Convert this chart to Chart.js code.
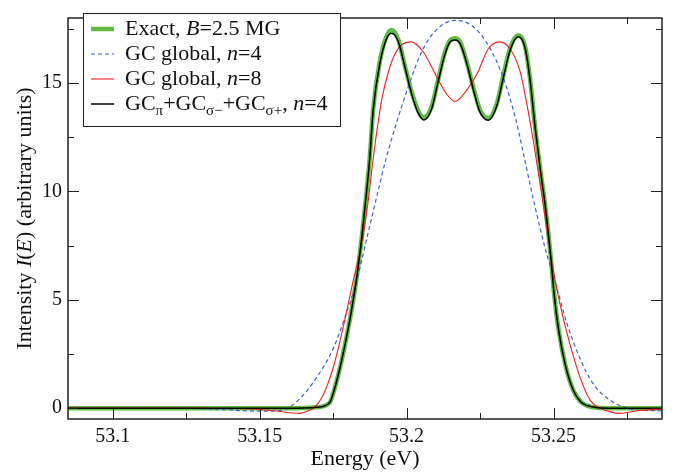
<!DOCTYPE html>
<html>
<head>
<meta charset="utf-8">
<title>Intensity I(E)</title>
<script src="https://cdn.jsdelivr.net/npm/chart.js@4.4.1/dist/chart.umd.min.js"></script>
<style>
  html, body { margin: 0; padding: 0; background: #fff; }
  #wrap { width: 674px; height: 472px; }
</style>
</head>
<body>
<div id="wrap"><canvas id="spectrum" width="674" height="472"></canvas></div>
<script>
// Axis ranges and ticks
const xMin = 53.0848, xMax = 53.2869;
const xTicks = [53.1, 53.15, 53.2, 53.25];
const xTickLabels = ['53.1', '53.15', '53.2', '53.25'];
const xMinorTicks = [53.125, 53.175, 53.225, 53.275];
const yMin = -0.5, yMax = 18;
const yTicks = [0, 5, 10, 15];
const yMinorTicks = [2.5, 7.5, 12.5, 17.5];

// Exact spectrum, B = 2.5 MG
const exactEnergy = [53.0848, 53.14, 53.16, 53.165, 53.1693, 53.1738, 53.1755, 53.1773, 53.179, 53.1807,
  53.183, 53.1847, 53.1864, 53.1875, 53.1886, 53.1909, 53.1932, 53.1949, 53.1972, 53.1994,
  53.2017, 53.204, 53.2059, 53.2085, 53.2108, 53.213, 53.2147, 53.2165, 53.2182, 53.2204,
  53.2227, 53.225, 53.2278, 53.2307, 53.233, 53.2352, 53.238, 53.2403, 53.242, 53.2437,
  53.2455, 53.2472, 53.249, 53.2502, 53.2517, 53.254, 53.2568, 53.2592, 53.2614, 53.265,
  53.27, 53.2869];
const exactIntensity = [0, 0, 0, 0.01, 0.04, 0.25, 0.9, 1.84, 2.9, 4.08,
  6.0, 7.8, 10.0, 11.6, 13.75, 16.0, 17.17, 17.45, 17.0, 15.8,
  14.6, 13.7, 13.42, 13.9, 15.2, 16.4, 16.95, 17.07, 16.9, 16.0,
  14.8, 13.75, 13.38, 14.05, 15.4, 16.6, 17.2, 16.7, 15.2, 13.0,
  11.0, 9.3, 7.05, 5.27, 3.63, 2.0, 0.8, 0.3, 0.12, 0.02,
  0, 0];

// GC global, n = 4
const gcN4Energy = [53.0848, 53.12, 53.135, 53.145, 53.152, 53.158, 53.1636, 53.1693, 53.175, 53.1795,
  53.183, 53.1864, 53.1898, 53.193, 53.2, 53.2057, 53.2113, 53.2165, 53.2227, 53.2284,
  53.233, 53.2372, 53.2403, 53.2437, 53.2472, 53.2511, 53.2545, 53.259, 53.2636, 53.2693,
  53.275, 53.2795, 53.2869];
const gcN4Intensity = [0, 0, -0.05, -0.12, -0.14, -0.08, 0.43, 1.4, 2.74, 4.38,
  5.86, 7.8, 9.73, 11.5, 14.6, 16.6, 17.6, 17.89, 17.6, 16.6,
  15.2, 13.3, 11.4, 9.3, 7.35, 5.57, 3.93, 2.29, 1.1, 0.36,
  0.0, -0.1, -0.12];

// GC global, n = 8
const gcN8Energy = [53.0848, 53.13, 53.145, 53.155, 53.1636, 53.1665, 53.1687, 53.171, 53.173, 53.175,
  53.177, 53.179, 53.1818, 53.1841, 53.1864, 53.189, 53.1915, 53.194, 53.1965, 53.1987,
  53.2015, 53.2057, 53.2102, 53.2136, 53.2165, 53.2199, 53.2239, 53.2278, 53.2316, 53.2352,
  53.2386, 53.2409, 53.2432, 53.2466, 53.2494, 53.2522, 53.2557, 53.2591, 53.2625, 53.2659,
  53.2695, 53.2727, 53.2784, 53.2869];
const gcN8Intensity = [0, 0, -0.03, -0.12, -0.24, -0.12, 0.05, 0.45, 1.05, 1.84,
  2.9, 4.08, 5.86, 7.2, 9.0, 11.9, 14.2, 15.6, 16.45, 16.8,
  16.9, 16.43, 15.3, 14.5, 14.15, 14.57, 15.4, 16.58, 16.9, 16.58,
  15.54, 14.05, 12.26, 9.3, 6.75, 4.8, 2.9, 1.4, 0.36, 0.0,
  -0.17, -0.24, -0.12, -0.05];

// GC_pi + GC_sigma- + GC_sigma+, n = 4
const gcSumEnergy = exactEnergy.slice();
const gcSumIntensity = [0, 0, 0, 0.01, 0.04, 0.25, 0.9, 1.84, 2.9, 4.08,
  6.0, 7.8, 10.0, 11.6, 13.7, 15.9, 17.05, 17.3, 16.9, 15.75,
  14.5, 13.6, 13.3, 13.8, 15.1, 16.3, 16.88, 16.98, 16.82, 15.95,
  14.7, 13.65, 13.28, 13.95, 15.3, 16.5, 17.13, 16.62, 15.15, 13.0,
  11.0, 9.3, 7.05, 5.27, 3.63, 2.0, 0.8, 0.3, 0.12, 0.02,
  0, 0];

const seriesColors = ['#62bb46', '#3f62c8', '#ee2020', '#000000'];

// Legend rows: text runs (italic / subscript pieces)
const legendRows = [
  [{ t: 'Exact, ' }, { t: 'B', it: true }, { t: '=2.5 MG' }],
  [{ t: 'GC global, ' }, { t: 'n', it: true }, { t: '=4' }],
  [{ t: 'GC global, ' }, { t: 'n', it: true }, { t: '=8' }],
  [{ t: 'GC' }, { t: 'π', sub: true }, { t: '+GC' }, { t: 'σ−', sub: true }, { t: '+GC' }, { t: 'σ+', sub: true },
   { t: ', ' }, { t: 'n', it: true }, { t: '=4' }]
];
const xTitle = [{ t: 'Energy (eV)' }];
const yTitle = [{ t: 'Intensity ' }, { t: 'I', it: true }, { t: '(' }, { t: 'E', it: true }, { t: ') (arbitrary units)' }];

const FONT = '"Liberation Serif", serif';
Chart.defaults.font.family = FONT;
Chart.defaults.color = '#111';

function toPoints(xs, ys) {
  return xs.map((x, i) => ({ x: x, y: ys[i] }));
}

function runFont(r, size) {
  const s = r.sub ? Math.round(size * 0.68) : size;
  return (r.it ? 'italic ' : '') + s + 'px ' + FONT;
}

function runsWidth(ctx, runs, size) {
  let w = 0;
  runs.forEach(r => { ctx.font = runFont(r, size); w += ctx.measureText(r.t).width; });
  return w;
}

function drawRuns(ctx, runs, x, y, size) {
  ctx.textBaseline = 'middle';
  ctx.textAlign = 'left';
  runs.forEach(r => {
    ctx.font = runFont(r, size);
    ctx.fillText(r.t, x, y + (r.sub ? size * 0.3 : 0));
    x += ctx.measureText(r.t).width;
  });
}

// frame with inward ticks on all four sides, axis titles and the legend box
const decorations = {
  id: 'decorations',
  afterDatasetsDraw(chart) {
    const { ctx, chartArea: a, scales: { x, y } } = chart;
    ctx.save();
    ctx.strokeStyle = '#222';
    ctx.lineWidth = 1;
    const tickX = (v, len) => {
      const px = Math.round(x.getPixelForValue(v)) + 0.5;
      ctx.beginPath();
      ctx.moveTo(px, a.bottom); ctx.lineTo(px, a.bottom - len);
      ctx.moveTo(px, a.top); ctx.lineTo(px, a.top + len);
      ctx.stroke();
    };
    const tickY = (v, len) => {
      const py = Math.round(y.getPixelForValue(v)) + 0.5;
      ctx.beginPath();
      ctx.moveTo(a.left, py); ctx.lineTo(a.left + len, py);
      ctx.moveTo(a.right, py); ctx.lineTo(a.right - len, py);
      ctx.stroke();
    };
    xTicks.forEach(v => tickX(v, 11));
    xMinorTicks.forEach(v => tickX(v, 6));
    yTicks.forEach(v => tickY(v, 11));
    yMinorTicks.forEach(v => tickY(v, 6));
    ctx.lineWidth = 1.5;
    ctx.strokeRect(a.left, a.top, a.right - a.left, a.bottom - a.top);

    ctx.fillStyle = '#111';
    // x title
    const xs = 22;
    const xw = runsWidth(ctx, xTitle, xs);
    drawRuns(ctx, xTitle, (a.left + a.right) / 2 - xw / 2, 459, xs);
    // y title, rotated
    const ys = 22;
    const yw = runsWidth(ctx, yTitle, ys);
    ctx.save();
    ctx.translate(25, (a.top + a.bottom) / 2);
    ctx.rotate(-Math.PI / 2);
    drawRuns(ctx, yTitle, -yw / 2, 0, ys);
    ctx.restore();

    // legend box
    const bx = 83, by = 13, bw = 257, bh = 113;
    ctx.fillStyle = '#fff';
    ctx.fillRect(bx, by, bw, bh);
    ctx.lineWidth = 1;
    ctx.strokeStyle = '#222';
    ctx.strokeRect(bx + 0.5, by + 0.5, bw, bh);
    const rowY = [29, 54, 79, 104];
    const sets = chart.data.datasets;
    legendRows.forEach((runs, i) => {
      const ds = sets[i];
      ctx.save();
      ctx.strokeStyle = ds.borderColor;
      ctx.lineWidth = ds.borderWidth;
      ctx.setLineDash(ds.borderDash || []);
      ctx.beginPath();
      ctx.moveTo(91, rowY[i]); ctx.lineTo(114, rowY[i]);
      ctx.stroke();
      ctx.restore();
      ctx.fillStyle = '#111';
      drawRuns(ctx, runs, 125, rowY[i], 22);
    });
    ctx.restore();
  }
};

new Chart(document.getElementById('spectrum'), {
  type: 'line',
  data: {
    datasets: [
      { label: 'Exact, B=2.5 MG', data: toPoints(exactEnergy, exactIntensity),
        borderColor: seriesColors[0], borderWidth: 4.5, order: 3 },
      { label: 'GC global, n=4', data: toPoints(gcN4Energy, gcN4Intensity),
        borderColor: seriesColors[1], borderWidth: 1.2, borderDash: [4, 3], order: 2 },
      { label: 'GC global, n=8', data: toPoints(gcN8Energy, gcN8Intensity),
        borderColor: seriesColors[2], borderWidth: 1.1, order: 1 },
      { label: 'GCπ+GCσ−+GCσ+, n=4', data: toPoints(gcSumEnergy, gcSumIntensity),
        borderColor: seriesColors[3], borderWidth: 1.5, order: 0 }
    ]
  },
  options: {
    responsive: false,
    animation: false,
    events: [],
    layout: { padding: { top: 4, right: 12, left: 0, bottom: 0 } },
    elements: {
      point: { radius: 0 },
      line: { cubicInterpolationMode: 'monotone', fill: false }
    },
    plugins: { legend: { display: false }, tooltip: { enabled: false } },
    scales: {
      x: {
        type: 'linear', min: xMin, max: xMax,
        grid: { display: false, drawTicks: false },
        border: { display: false },
        afterBuildTicks: s => { s.ticks = xTicks.map(v => ({ value: v })); },
        afterFit: s => { s.height = 53; },
        ticks: {
          color: '#111', padding: 6, maxRotation: 0,
          font: { family: FONT, size: 20 },
          callback: v => xTickLabels[xTicks.indexOf(v)]
        }
      },
      y: {
        type: 'linear', min: yMin, max: yMax,
        grid: { display: false, drawTicks: false },
        border: { display: false },
        afterBuildTicks: s => { s.ticks = yTicks.map(v => ({ value: v })); },
        afterFit: s => { s.width = 68; },
        ticks: {
          color: '#111', padding: 6,
          font: { family: FONT, size: 20 },
          callback: v => String(v)
        }
      }
    }
  },
  plugins: [decorations]
});
</script>
</body>
</html>
